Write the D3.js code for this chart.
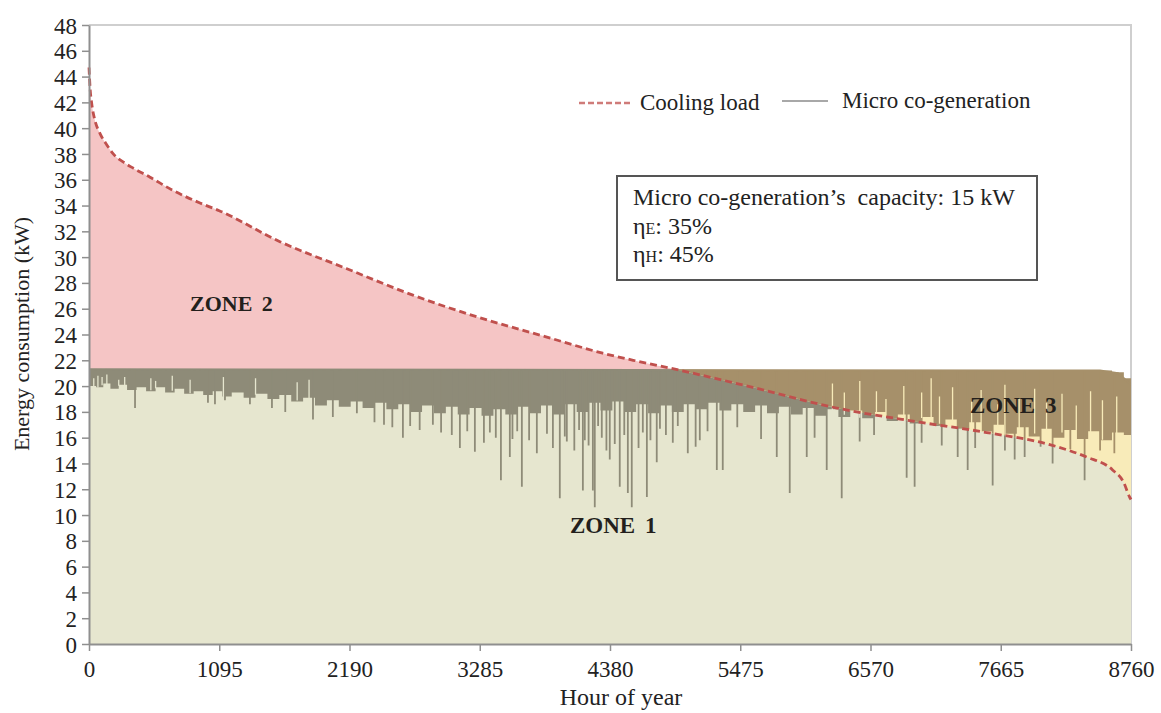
<!DOCTYPE html>
<html>
<head>
<meta charset="utf-8">
<script src="https://cdn.jsdelivr.net/npm/d3@7"></script>
<style>
  html, body { margin: 0; padding: 0; background: #ffffff; }
  svg { display: block; font-family: 'Liberation Serif', 'Times New Roman', serif; }
  text { font-family: 'Liberation Serif', 'Times New Roman', serif; }
</style>
</head>
<body>
<svg id="chart" width="1161" height="713"></svg>
<script>
// ---------------- DATA ----------------
const xTickValues = [0, 1095, 2190, 3285, 4380, 5475, 6570, 7665, 8760];
const yTickValues = d3.range(0, 49, 2);

// Cooling load (duration curve), kW
const loadHours  = [0, 10, 23, 50, 92, 150, 204, 300, 372, 513, 700, 933, 1095, 1605, 2168, 2723, 3286, 3849, 4319, 4600, 4907, 5580, 6286, 6983, 7546, 8100, 8386, 8605, 8700, 8748, 8760];
const loadValues = [44.7, 43.0, 41.9, 40.6, 39.6, 38.7, 38.0, 37.3, 36.9, 36.2, 35.2, 34.2, 33.6, 31.2, 29.1, 27.05, 25.3, 23.8, 22.55, 21.95, 21.35, 19.9, 18.3, 17.2, 16.4, 15.4, 14.5, 13.5, 12.5, 11.4, 11.2];

// Micro co-generation: upper level of the output
const genHours = [0, 8500, 8650, 8700, 8760];
const genTop   = [21.3, 21.2, 21.0, 20.6, 20.1];

// Micro co-generation: lower edge of the dense band of hourly values
const bandHours = [0, 60, 120, 180, 250, 320, 400, 480, 560, 640, 720, 800, 880, 960, 1040, 1120, 1200, 1300, 1400, 1500, 1600, 1700, 1800, 1900, 2000, 2100, 2200, 2300, 2400, 2500, 2600, 2700, 2800, 2900, 3000, 3100, 3200, 3300, 3400, 3500, 3600, 3700, 3800, 3900, 4000, 4100, 4200, 4300, 4400, 4500, 4600, 4700, 4800, 4900, 5000, 5100, 5200, 5300, 5400, 5500, 5600, 5700, 5800, 5900, 6000, 6100, 6200, 6300, 6400, 6500, 6600, 6700, 6800, 6900, 7000, 7100, 7200, 7300, 7400, 7500, 7600, 7700, 7800, 7900, 8000, 8100, 8200, 8300, 8400, 8500, 8600, 8700, 8760];
const bandLow   = [20.0, 19.9, 20.2, 19.8, 20.1, 19.7, 19.9, 19.6, 19.9, 19.5, 19.8, 19.4, 19.6, 19.3, 19.6, 19.2, 19.5, 19.1, 19.4, 19.0, 19.3, 18.8, 19.1, 18.5, 18.9, 18.4, 18.8, 18.3, 18.7, 18.2, 18.6, 18.0, 18.5, 17.9, 18.4, 17.8, 18.3, 17.7, 18.2, 17.8, 18.4, 17.9, 18.5, 17.8, 18.6, 18.0, 18.7, 18.1, 18.8, 18.0, 18.6, 17.9, 18.5, 18.0, 18.6, 18.2, 18.7, 18.1, 18.6, 18.0, 18.5, 17.9, 18.4, 17.8, 18.3, 17.7, 18.2, 17.6, 18.1, 17.5, 18.0, 17.3, 17.8, 17.1, 17.6, 16.9, 17.4, 16.7, 17.2, 16.5, 17.0, 16.3, 16.8, 16.1, 16.7, 16.0, 16.6, 15.9, 16.5, 15.8, 16.4, 16.2, 16.5];

// Micro co-generation: single-hour drops below the band
const spikeHours  = [387, 1000, 1059, 1143, 1353, 1538, 1650, 1883, 2050, 2252, 2400, 2480, 2550, 2639, 2700, 2780, 2891, 2960, 3050, 3118, 3180, 3244, 3320, 3370, 3420, 3463, 3538, 3560, 3600, 3639, 3700, 3765, 3850, 3900, 3958, 4000, 4017, 4080, 4120, 4152, 4168, 4200, 4236, 4252, 4280, 4311, 4350, 4378, 4420, 4462, 4500, 4530, 4563, 4620, 4656, 4690, 4720, 4773, 4800, 4850, 4908, 4950, 5034, 5100, 5135, 5200, 5278, 5328, 5450, 5650, 5782, 5891, 6034, 6100, 6202, 6328, 6479, 6600, 6874, 6941, 7000, 7169, 7303, 7387, 7450, 7597, 7700, 7782, 7866, 8000, 8101, 8250, 8370, 8500, 8620];
const spikeValues = [18.3, 18.7, 18.6, 18.9, 18.6, 18.3, 18.0, 17.4, 17.6, 17.9, 17.2, 17.0, 16.8, 16.0, 16.9, 16.6, 17.0, 16.4, 16.2, 15.2, 16.5, 14.9, 15.6, 16.4, 16.0, 12.7, 14.5, 15.9, 16.5, 12.2, 15.8, 14.8, 16.3, 15.2, 11.3, 16.1, 15.7, 15.0, 16.6, 11.9, 15.8, 15.4, 11.9, 10.6, 16.9, 16.0, 15.0, 14.3, 15.5, 12.2, 16.2, 11.7, 10.6, 15.2, 16.4, 11.4, 15.8, 14.1, 16.7, 16.2, 15.6, 16.9, 14.8, 15.3, 15.8, 16.5, 13.5, 13.5, 16.8, 15.9, 14.5, 11.7, 14.5, 16.0, 13.5, 11.3, 15.7, 16.2, 12.9, 12.2, 15.6, 15.4, 14.5, 13.5, 15.2, 12.3, 15.0, 14.3, 14.5, 15.3, 14.0, 15.1, 12.7, 15.0, 14.8];

// Hours where output stayed near the top (light gaps inside the band)
const gapHours  = [40, 75, 110, 150, 250, 300, 520, 560, 700, 850, 1130, 1400, 1750, 1850, 6250, 6350, 6480, 6620, 6700, 6850, 7000, 7080, 7150, 7260, 7420, 7500, 7640, 7700, 7820, 7950, 8050, 8180, 8300, 8420, 8520, 8640];
const gapValues = [20.6, 20.8, 20.7, 20.9, 20.5, 20.7, 20.6, 20.4, 20.8, 20.5, 20.7, 20.6, 20.3, 20.5, 20.2, 19.5, 20.4, 19.6, 19.0, 20.0, 19.5, 20.6, 19.2, 19.9, 18.8, 19.7, 18.6, 20.1, 19.0, 19.8, 18.7, 19.4, 18.5, 19.6, 18.9, 19.2];

const legendLabels = ["Cooling load", "Micro co-generation"];
const zoneLabels = ["ZONE 1", "ZONE 2", "ZONE 3"];
const infoLines = [
  {main: "Micro co-generation\u2019s  capacity: 15 kW", sub: null, rest: null},
  {main: "\u03B7", sub: "E", rest: ": 35%"},
  {main: "\u03B7", sub: "H", rest: ": 45%"}
];

// ---------------- CHART ----------------
const FONT = "'Liberation Serif', 'Times New Roman', serif";
const svg = d3.select("#chart");
const plot = {left: 89, right: 1131, top: 25, bottom: 644};

const x = d3.scaleLinear().domain([0, 8760]).range([plot.left, plot.right]);
const y = d3.scaleLinear().domain([0, 48]).range([plot.bottom, plot.top]);

const C = {
  pink: "#f5c5c5",
  beige: "#e6e6cf",
  yellow: "#f8ebb9",
  gray: "#8e8b78",
  brown: "#a6906a",
  load: "#c0504d",
  axis: "#8f8f8f",
  frame: "#cfcfcf",
  text: "#222222"
};

const loadData = loadHours.map((h, i) => ({h, v: loadValues[i]}));
const genData = genHours.map((h, i) => ({h, v: genTop[i]}));
const bandData = bandHours.map((h, i) => ({h, v: bandLow[i]}));
const spikeData = spikeHours.map((h, i) => ({h, v: spikeValues[i]}));
const gapData = gapHours.map((h, i) => ({h, v: gapValues[i]}));

const genLevel = d3.scaleLinear().domain(genHours).range(genTop);
const bandLevel = d3.scaleLinear().domain(bandHours).range(bandLow);

const curveLoad = d3.curveMonotoneX;

const defs = svg.append("defs");
defs.append("clipPath").attr("id", "clipGen").append("path")
  .attr("d", d3.area().x(d => x(d.h)).y0(y(0)).y1(d => y(d.v))(genData));
defs.append("clipPath").attr("id", "clipBelowLoad").append("path")
  .attr("d", d3.area().curve(curveLoad).x(d => x(d.h)).y0(y(0)).y1(d => y(d.v))(loadData));
defs.append("clipPath").attr("id", "clipAboveLoad").append("path")
  .attr("d", d3.area().curve(curveLoad).x(d => x(d.h)).y0(y(48)).y1(d => y(d.v))(loadData));

// frame (top/right)
svg.append("path")
  .attr("d", `M${plot.left},${plot.top}H${plot.right}V${plot.bottom}`)
  .attr("fill", "none").attr("stroke", C.frame).attr("stroke-width", 2);

// Zone 2 (pink) : under load
svg.append("path")
  .attr("d", d3.area().curve(curveLoad).x(d => x(d.h)).y0(y(0)).y1(d => y(d.v))(loadData))
  .attr("fill", C.pink);
// Zone 3 (yellow) : under generation
svg.append("path")
  .attr("d", d3.area().x(d => x(d.h)).y0(y(0)).y1(d => y(d.v))(genData))
  .attr("fill", C.yellow);
// Zone 1 (beige) : under both
svg.append("path")
  .attr("clip-path", "url(#clipGen)")
  .attr("d", d3.area().curve(curveLoad).x(d => x(d.h)).y0(y(0)).y1(d => y(d.v))(loadData))
  .attr("fill", C.beige);

function drawGen(clipId, color, bgColor) {
  const g = svg.append("g").attr("clip-path", `url(#${clipId})`);
  g.append("path")
    .attr("d", d3.area().curve(d3.curveStepAfter)
      .x(d => x(d.h)).y0(d => y(genLevel(d.h))).y1(d => y(d.v))(bandData))
    .attr("fill", color);
  g.selectAll("line.spike").data(spikeData).join("line")
    .attr("class", "spike")
    .attr("x1", d => x(d.h)).attr("x2", d => x(d.h))
    .attr("y1", d => y(genLevel(d.h))).attr("y2", d => y(d.v))
    .attr("stroke", color).attr("stroke-width", 1.8);
  g.selectAll("line.gap").data(gapData).join("line")
    .attr("class", "gap")
    .attr("x1", d => x(d.h)).attr("x2", d => x(d.h))
    .attr("y1", d => y(bandLevel(d.h)) + 1).attr("y2", d => y(d.v))
    .attr("stroke", bgColor).attr("stroke-width", 1.3);
  g.append("path")
    .attr("d", d3.line().x(d => x(d.h)).y(d => y(d.v))(genData))
    .attr("fill", "none").attr("stroke", color).attr("stroke-width", 2);
}
drawGen("clipBelowLoad", C.gray, C.beige);
drawGen("clipAboveLoad", C.brown, C.yellow);

// Cooling load dashed line
svg.append("path")
  .attr("d", d3.line().curve(curveLoad).x(d => x(d.h)).y(d => y(d.v))(loadData))
  .attr("fill", "none").attr("stroke", C.load).attr("stroke-width", 2.8)
  .attr("stroke-dasharray", "7,4");

// Axes
const yAxis = svg.append("g").attr("transform", `translate(${plot.left},0)`)
  .call(d3.axisLeft(y).tickValues(yTickValues).tickFormat(d3.format("d")).tickSize(7).tickSizeOuter(0).tickPadding(4));
yAxis.attr("font-family", FONT);
yAxis.select(".domain").attr("stroke", C.axis).attr("stroke-width", 2);
yAxis.selectAll(".tick line").attr("stroke", C.axis).attr("stroke-width", 1.5);
yAxis.selectAll(".tick text").attr("font-size", 23).attr("fill", C.text)
  .attr("x", -12).attr("dy", "0.35em");

const xAxis = svg.append("g").attr("transform", `translate(0,${plot.bottom})`)
  .call(d3.axisBottom(x).tickValues(xTickValues).tickFormat(d3.format("d")).tickSize(7).tickSizeOuter(0));
xAxis.attr("font-family", FONT);
xAxis.select(".domain").attr("stroke", C.axis).attr("stroke-width", 2);
xAxis.selectAll(".tick line").attr("stroke", C.axis).attr("stroke-width", 1.5);
xAxis.selectAll(".tick text").attr("font-size", 23).attr("fill", C.text)
  .attr("y", 33).attr("dy", 0);

// Axis titles
svg.append("text").attr("x", 621).attr("y", 705).attr("text-anchor", "middle")
  .attr("font-size", 24).attr("fill", C.text).text("Hour of year");
svg.append("text").attr("transform", "translate(29,334) rotate(-90)").attr("text-anchor", "middle")
  .attr("font-size", 22).attr("fill", C.text).text("Energy consumption (kW)");

// Zone labels
const zonePos = [[570, 533, 23], [190, 311, 22], [970, 413, 23]];
zoneLabels.forEach((t, i) => {
  svg.append("text").attr("x", zonePos[i][0]).attr("y", zonePos[i][1])
    .attr("font-size", zonePos[i][2]).attr("font-weight", "bold").attr("fill", "#231f1c")
    .attr("word-spacing", 4).text(t);
});

// Legend
const lg = svg.append("g");
lg.append("line").attr("x1", 579).attr("x2", 633).attr("y1", 103).attr("y2", 103)
  .attr("stroke", C.load).attr("stroke-width", 2.5).attr("stroke-dasharray", "6,3").attr("opacity", 0.75);
lg.append("text").attr("x", 640).attr("y", 110).attr("font-size", 23).attr("fill", C.text).text(legendLabels[0]);
lg.append("line").attr("x1", 782).attr("x2", 828).attr("y1", 101).attr("y2", 101)
  .attr("stroke", "#a8a8a8").attr("stroke-width", 2);
lg.append("text").attr("x", 842).attr("y", 108).attr("font-size", 23).attr("fill", C.text).text(legendLabels[1]);

// Info box
svg.append("rect").attr("x", 617).attr("y", 176).attr("width", 420).attr("height", 104)
  .attr("fill", "#ffffff").attr("stroke", "#555555").attr("stroke-width", 2);
const baseY = [205, 234, 262];
infoLines.forEach((ln, i) => {
  const t = svg.append("text").attr("x", 633).attr("y", baseY[i]).attr("font-size", 24).attr("fill", C.text)
    .attr("xml:space", "preserve");
  t.append("tspan").text(ln.main);
  if (ln.sub) t.append("tspan").attr("font-size", 16).text(ln.sub);
  if (ln.rest) t.append("tspan").text(ln.rest);
});
</script>
</body>
</html>
